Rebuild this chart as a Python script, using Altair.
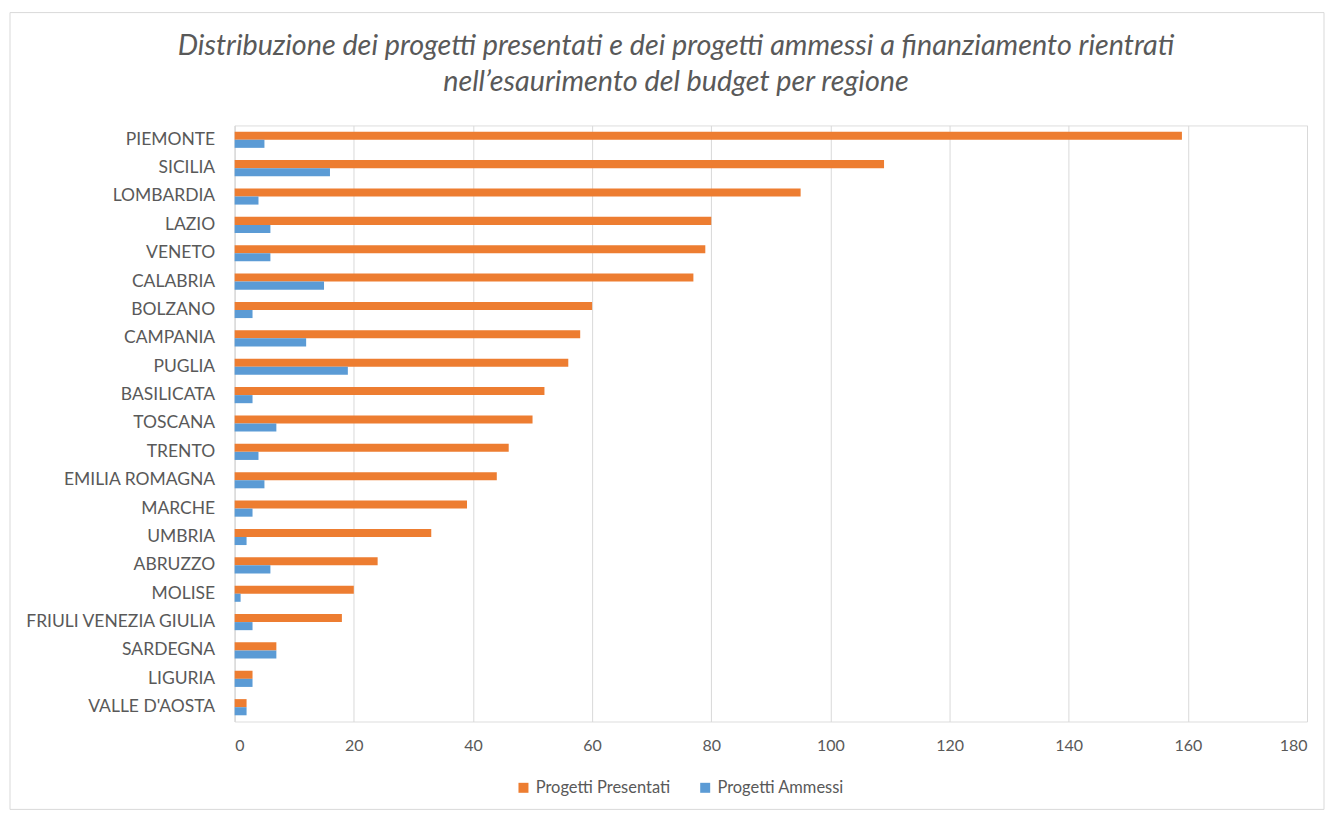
import altair as alt
import pandas as pd

regions = ["PIEMONTE", "SICILIA", "LOMBARDIA", "LAZIO", "VENETO", "CALABRIA",
           "BOLZANO", "CAMPANIA", "PUGLIA", "BASILICATA", "TOSCANA", "TRENTO",
           "EMILIA ROMAGNA", "MARCHE", "UMBRIA", "ABRUZZO", "MOLISE",
           "FRIULI VENEZIA GIULIA", "SARDEGNA", "LIGURIA", "VALLE D'AOSTA"]
presentati = [159, 109, 95, 80, 79, 77, 60, 58, 56, 52, 50, 46, 44, 39, 33, 24, 20, 18, 7, 3, 2]
ammessi = [5, 16, 4, 6, 6, 15, 3, 12, 19, 3, 7, 4, 5, 3, 2, 6, 1, 3, 7, 3, 2]
series = ["Progetti Presentati", "Progetti Ammessi"]
colors = ["#ED7D31", "#5B9BD5"]
ticks = [0, 20, 40, 60, 80, 100, 120, 140, 160, 180]

rows = []
for r, p, a in zip(regions, presentati, ammessi):
    rows.append({"Regione": r, "Serie": series[0], "Valore": p})
    rows.append({"Regione": r, "Serie": series[1], "Valore": a})
df = pd.DataFrame(rows)

FONT = "Lato"
GRAY = "#595959"

bars = alt.Chart(df).mark_bar().encode(
    y=alt.Y("Regione:N", sort=regions, title=None,
            scale=alt.Scale(paddingInner=0.43, paddingOuter=0.22),
            axis=alt.Axis(domainColor="#d9d9d9", ticks=False, labelPadding=20,
                          labelFontSize=17.5, labelColor=GRAY, labelFont=FONT,
                          labelLimit=400)),
    yOffset=alt.YOffset("Serie:N", sort=series),
    x=alt.X("Valore:Q", title=None,
            scale=alt.Scale(domain=[0, 180], nice=False),
            axis=alt.Axis(values=ticks, domain=False, ticks=False, grid=True,
                          gridColor="#d9d9d9", labelPadding=16, labelFontSize=16,
                          labelColor=GRAY, labelFont=FONT)),
    color=alt.Color("Serie:N", sort=series,
                    scale=alt.Scale(domain=series, range=colors),
                    legend=alt.Legend(title=None, orient="none", legendX=281, legendY=655,
                                      direction="horizontal", symbolType="square",
                                      symbolSize=100, symbolStrokeWidth=0,
                                      labelFontSize=16.5, labelColor=GRAY, labelFont=FONT,
                                      columnPadding=26, labelOffset=4)),
)

border = alt.Chart(pd.DataFrame({"a": [0]})).mark_rect(
    fill=None, stroke="#d9d9d9", strokeWidth=1
).encode(x=alt.value(-225), x2=alt.value(1091), y=alt.value(-113), y2=alt.value(685))

chart = alt.layer(border, bars).properties(
    width=1074, height=597,
    title=alt.Title(
        ["Distribuzione dei progetti presentati e dei progetti ammessi a finanziamento rientrati",
         "nell\u2019esaurimento del budget per regione"],
        fontSize=28.8, fontStyle="italic", fontWeight="normal", color=GRAY, font=FONT,
        anchor="middle", lineHeight=36, offset=30, dy=115, dx=-95),
    padding={"left": 227, "top": 117, "right": 20, "bottom": 90},
    autosize=alt.AutoSizeParams(type="none"),
).configure_view(stroke=None).configure(background="white")

chart.save("out.html", embed_options={"renderer": "svg", "actions": False})
